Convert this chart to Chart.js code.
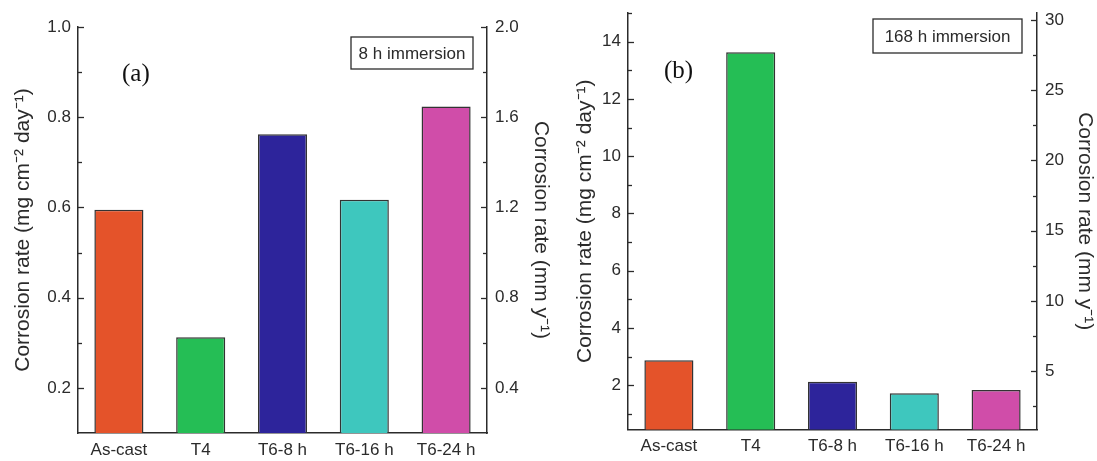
<!DOCTYPE html>
<html>
<head>
<meta charset="utf-8">
<script src="https://cdn.jsdelivr.net/npm/chart.js@4"></script>
<style>
  body { margin: 0; background: #fff; }
  #wrap { position: relative; width: 1097px; height: 461px; }
  #chartA { position: absolute; left: 0; top: 0; }
  #chartB { position: absolute; left: 560px; top: 0; }
</style>
</head>
<body>
<div id="wrap">
  <canvas id="chartA" width="560" height="461"></canvas>
  <canvas id="chartB" width="537" height="461"></canvas>
</div>
<script>
// data
const categories = ['As-cast', 'T4', 'T6-8 h', 'T6-16 h', 'T6-24 h'];
const rate8h = [0.595, 0.312, 0.762, 0.617, 0.824];      // mg cm-2 day-1
const rate168h = [2.87, 13.63, 2.12, 1.72, 1.83];        // mg cm-2 day-1
const barColors = ['#E4532A', '#25BE55', '#2D249B', '#3EC7BE', '#D04DA9'];

// labelled ticks on each axis
const leftTicksA = [0.2, 0.4, 0.6, 0.8, 1.0];
const rightTicksA = [0.4, 0.8, 1.2, 1.6, 2.0];
const leftTicksB = [2, 4, 6, 8, 10, 12, 14];
const rightTicksB = [5, 10, 15, 20, 25, 30];

const ink = '#2b2b2b';
const tickFont = { family: 'Liberation Sans, Arial, sans-serif', size: 17 };
const titleFont = { family: 'Liberation Sans, Arial, sans-serif', size: 21 };

const labelFor = (list) => (v) => {
  const hit = list.find((t) => Math.abs(t - v) < 1e-6);
  return hit === undefined ? '' : String(hit % 1 === 0 && list[0] % 1 !== 0 ? hit.toFixed(1) : hit);
};

// inward tick marks on the value axes (major = labelled)
const innerTicks = {
  id: 'innerTicks',
  afterDraw(chart) {
    const ctx = chart.ctx;
    const area = chart.chartArea;
    ctx.save();
    ctx.strokeStyle = ink;
    ctx.lineWidth = 1.3;
    Object.values(chart.scales).forEach((scale) => {
      if (scale.axis !== 'y') return;
      const left = scale.position === 'left';
      const x0 = left ? area.left : area.right;
      scale.ticks.forEach((t) => {
        if (t.value <= scale.min + 1e-9) return;
        const y = Math.round(scale.getPixelForValue(t.value)) + 0.5;
        const len = t.label !== '' ? 6 : 4;
        ctx.beginPath();
        ctx.moveTo(x0, y);
        ctx.lineTo(left ? x0 + len : x0 - len, y);
        ctx.stroke();
      });
    });
    ctx.restore();
  }
};

// panel tag "(a)" and boxed immersion note
const panelNote = {
  id: 'panelNote',
  afterDraw(chart, args, opts) {
    const ctx = chart.ctx;
    ctx.save();
    ctx.fillStyle = '#111';
    ctx.font = '25px "Liberation Serif", "Times New Roman", serif';
    ctx.textAlign = 'left';
    ctx.textBaseline = 'middle';
    ctx.fillText(opts.tag, opts.tagX, opts.tagY);
    const [bx, by, bw, bh] = opts.box;
    ctx.strokeStyle = ink;
    ctx.lineWidth = 1.3;
    ctx.strokeRect(bx, by, bw, bh);
    ctx.font = '17px "Liberation Sans", Arial, sans-serif';
    ctx.fillStyle = ink;
    ctx.textAlign = 'center';
    ctx.fillText(opts.text, bx + bw / 2, by + bh / 2 + 1);
    ctx.restore();
  }
};

function makeChart(id, values, cfg) {
  return new Chart(document.getElementById(id), {
    type: 'bar',
    data: {
      labels: categories,
      datasets: [{
        data: values,
        backgroundColor: barColors,
        borderColor: '#333',
        borderWidth: 1.5,
        barPercentage: 0.6,
        categoryPercentage: 1.0,
        yAxisID: 'y'
      }]
    },
    options: {
      responsive: false,
      animation: false,
      layout: { padding: { top: cfg.top, left: 0, right: 0, bottom: 0 } },
      plugins: {
        legend: { display: false },
        tooltip: { enabled: false },
        panelNote: cfg.note
      },
      scales: {
        x: {
          grid: { display: false, drawTicks: false },
          border: { display: true, color: ink, width: 1.5 },
          ticks: { color: ink, font: tickFont, padding: 7, maxRotation: 0 },
          afterFit: (s) => { s.height = cfg.bottomH; s.paddingLeft = 0; s.paddingRight = 0; }
        },
        y: {
          position: 'left',
          min: cfg.left.min,
          max: cfg.left.max,
          grid: { display: false, drawTicks: false },
          border: { display: true, color: ink, width: 1.5 },
          ticks: {
            stepSize: cfg.left.step, autoSkip: false, includeBounds: false, color: ink, font: tickFont, padding: 7,
            callback: labelFor(cfg.left.labels)
          },
          title: { display: true, text: 'Corrosion rate (mg cm\u207B\u00B2 day\u207B\u00B9)', color: ink, font: titleFont, padding: { top: cfg.left.titlePad, bottom: 0 } },
          afterFit: (s) => { s.width = cfg.left.width; s.paddingTop = 0; s.paddingBottom = 0; }
        },
        y2: {
          position: 'right',
          min: cfg.right.min,
          max: cfg.right.max,
          grid: { display: false, drawTicks: false },
          border: { display: true, color: ink, width: 1.5 },
          ticks: {
            stepSize: cfg.right.step, autoSkip: false, includeBounds: false, color: ink, font: tickFont, padding: 8,
            callback: labelFor(cfg.right.labels)
          },
          title: { display: true, text: 'Corrosion rate (mm y\u207B\u00B9)', color: ink, font: titleFont, padding: { top: cfg.right.titlePad, bottom: 0 } },
          afterFit: (s) => { s.width = cfg.right.width; s.paddingTop = 0; s.paddingBottom = 0; }
        }
      }
    },
    plugins: [innerTicks, panelNote]
  });
}

makeChart('chartA', rate8h, {
  top: 27,
  bottomH: 28,
  left: { min: 0.1, max: 1.0, step: 0.1, labels: leftTicksA, width: 78, titlePad: 11 },
  right: { min: 0.2, max: 2.0, step: 0.2, labels: rightTicksA, width: 73, titlePad: 7 },
  note: { tag: '(a)', tagX: 122, tagY: 74, box: [351, 37, 122, 32], text: '8 h immersion' }
});

makeChart('chartB', rate168h, {
  top: 13,
  bottomH: 31.5,
  left: { min: 0.45, max: 15, step: 1, labels: leftTicksB, width: 68, titlePad: 13 },
  right: { min: 0.84, max: 30.5, step: 2.5, labels: rightTicksB, width: 60, titlePad: 0 },
  note: { tag: '(b)', tagX: 104, tagY: 71, box: [313, 19, 149, 34], text: '168 h immersion' }
});
</script>
</body>
</html>
